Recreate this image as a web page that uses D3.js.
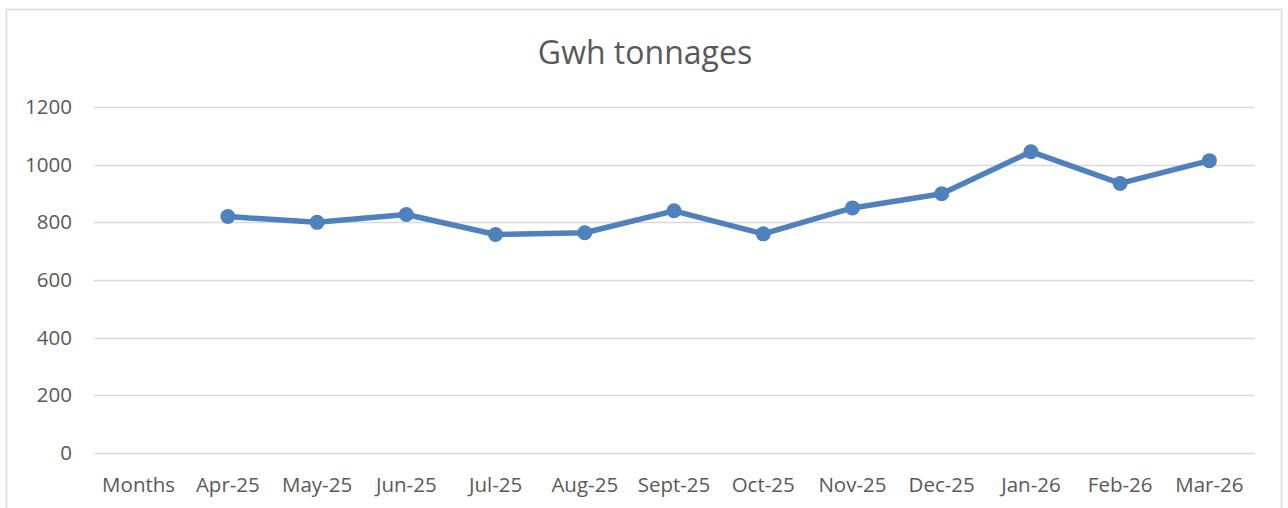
<!DOCTYPE html>
<html>
<head>
<meta charset="utf-8">
<script src="https://cdn.jsdelivr.net/npm/d3@7"></script>
<style>
  body { margin: 0; background: #fff; }
  text { font-family: "Open Sans", "Noto Sans", sans-serif; fill: #595959; }
</style>
</head>
<body>
<div id="chart"></div>
<script>
const categories = ["Months", "Apr-25", "May-25", "Jun-25", "Jul-25", "Aug-25", "Sept-25",
    "Oct-25", "Nov-25", "Dec-25", "Jan-26", "Feb-26", "Mar-26"];
const values = [null, 820, 800, 827, 758, 764, 840, 760, 850, 899, 1045, 935, 1014];
const yTicks = [0, 200, 400, 600, 800, 1000, 1200];

const width = 1288;
const height = 508;

const svg = d3.select("#chart")
    .append("svg")
    .attr("width", width)
    .attr("height", height);

// chart frame
svg.append("rect")
    .attr("x", 6.5)
    .attr("y", 9.5)
    .attr("width", 1275)
    .attr("height", 520)
    .attr("fill", "white")
    .attr("stroke", "#d9d9d9")
    .attr("stroke-width", 1.5);

const x = d3.scaleBand()
    .domain(categories)
    .range([94, 1254]);

const y = d3.scaleLinear()
    .domain([0, 1200])
    .range([453, 107]);

// gridlines
svg.append("g")
    .selectAll("line")
    .data(yTicks)
    .enter().append("line")
    .attr("x1", 94)
    .attr("x2", 1254)
    .attr("y1", d => Math.round(y(d)) + 0.5)
    .attr("y2", d => Math.round(y(d)) + 0.5)
    .attr("stroke", "#d9d9d9")
    .attr("stroke-width", 1.5);

// y labels
svg.append("g")
    .selectAll("text")
    .data(yTicks)
    .enter().append("text")
    .attr("x", 72)
    .attr("y", d => y(d) + 7)
    .attr("text-anchor", "end")
    .attr("font-size", "20.5px")
    .text(d => d);

// x labels
svg.append("g")
    .selectAll("text")
    .data(categories)
    .enter().append("text")
    .attr("x", d => x(d) + x.bandwidth() / 2)
    .attr("y", 492)
    .attr("text-anchor", "middle")
    .attr("font-size", "20.5px")
    .text(d => d);

// title
svg.append("text")
    .attr("x", 645)
    .attr("y", 64)
    .attr("text-anchor", "middle")
    .attr("font-size", "32px")
    .text("Gwh tonnages");

const points = categories.map((c, i) => ({ cat: c, val: values[i] }))
    .filter(d => d.val != null);

const line = d3.line()
    .x(d => x(d.cat) + x.bandwidth() / 2)
    .y(d => y(d.val));

svg.append("path")
    .datum(points)
    .attr("d", line)
    .attr("fill", "none")
    .attr("stroke", "#4f81bd")
    .attr("stroke-width", 5.5)
    .attr("stroke-linejoin", "round")
    .attr("stroke-linecap", "round");

svg.append("g")
    .selectAll("circle")
    .data(points)
    .enter().append("circle")
    .attr("cx", d => x(d.cat) + x.bandwidth() / 2)
    .attr("cy", d => y(d.val))
    .attr("r", 7.5)
    .attr("fill", "#4f81bd");
</script>
</body>
</html>
